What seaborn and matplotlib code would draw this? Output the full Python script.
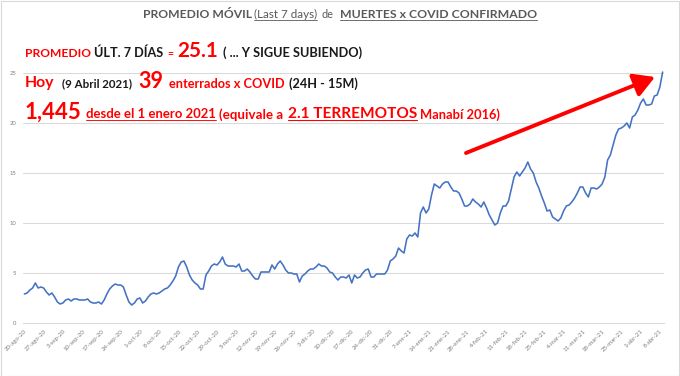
import matplotlib
matplotlib.use("Agg")
import numpy as np
import pandas as pd
import seaborn as sns
import matplotlib.pyplot as plt
from matplotlib.transforms import IdentityTransform
from matplotlib.lines import Line2D
from matplotlib.patches import Rectangle, FancyArrowPatch, ArrowStyle

# ---------------- data ----------------
start_date = "2020-08-20"
end_date = "2021-04-09"
values = [
    2.9, 3.0, 3.3, 3.5, 4.0, 3.5, 3.6, 3.5, 3.1, 2.8,   # d0-9
    3.0, 2.6, 2.1, 1.9, 2.0, 2.3, 2.4, 2.2, 2.4, 2.4,   # d10-19
    2.3, 2.3, 2.3, 2.4, 2.1, 2.0, 2.0, 2.1, 1.9, 2.3,   # d20-29
    2.9, 3.4, 3.7, 3.9, 3.8, 3.8, 3.6, 2.8, 2.1, 1.8,   # d30-39
    2.0, 2.4, 2.5, 2.0, 2.2, 2.6, 2.9, 3.0, 2.9, 3.0,   # d40-49
    3.2, 3.4, 3.5, 3.8, 4.2, 4.7, 5.6, 6.1, 6.2, 5.6,   # d50-59
    4.8, 4.3, 4.0, 3.8, 3.4, 3.4, 4.8, 5.2, 5.7, 5.9,   # d60-69
    5.8, 6.1, 6.6, 5.9, 5.7, 5.7, 5.7, 5.6, 5.9, 5.2,   # d70-79
    5.2, 5.4, 5.1, 4.7, 4.4, 4.4, 5.1, 5.1, 5.1, 5.1,   # d80-89
    5.8, 5.4, 5.9, 6.2, 5.8, 5.3, 5.0, 5.0, 4.9, 4.9,   # d90-99
    4.1, 4.7, 4.9, 5.2, 5.4, 5.4, 5.6, 5.9, 5.7, 5.7,   # d100-109
    5.5, 5.1, 5.0, 4.6, 4.3, 4.6, 4.6, 4.5, 4.8, 4.0,   # d110-119
    4.8, 4.5, 4.6, 5.0, 5.3, 5.4, 4.6, 4.6, 4.9, 4.9,   # d120-129
    4.9, 4.9, 5.3, 6.2, 6.4, 6.7, 7.5, 7.2, 7.0, 8.4,   # d130-139
    8.8, 8.7, 9.0, 8.6, 11.0, 11.6, 11.0, 11.4, 12.8, 13.9,  # d140-149
    13.7, 13.5, 13.9, 14.1, 14.1, 13.6, 13.2, 13.2, 13.0, 12.4,  # d150-159
    11.7, 11.7, 11.9, 12.4, 12.1, 11.9, 11.6, 12.1, 11.5, 10.8,  # d160-169
    10.3, 9.8, 10.0, 11.0, 11.7, 11.7, 12.2, 13.4, 14.6, 15.1,   # d170-179
    14.7, 15.1, 15.5, 16.1, 15.4, 15.0, 14.1, 13.5, 12.7, 12.0,  # d180-189
    11.2, 11.3, 10.6, 10.4, 10.2, 10.5, 11.2, 11.7, 11.8, 12.1,  # d190-199
    12.5, 13.0, 13.6, 13.6, 13.0, 12.6, 13.5, 13.5, 13.4, 13.6,  # d200-209
    13.9, 14.6, 16.3, 16.8, 17.8, 18.8, 19.4, 19.5, 19.7, 20.0,  # d210-219
    19.5, 20.6, 20.8, 21.3, 22.0, 22.4, 21.8, 21.8, 21.9, 22.7,  # d220-229
    22.8, 23.6, 25.1,                                            # d230-232
]
tick_labels = [
    "20-ago-20", "27-ago-20", "3-sep-20", "10-sep-20", "17-sep-20", "24-sep-20",
    "1-oct-20", "8-oct-20", "15-oct-20", "22-oct-20", "29-oct-20", "5-nov-20",
    "12-nov-20", "19-nov-20", "26-nov-20", "3-dic-20", "10-dic-20", "17-dic-20",
    "24-dic-20", "31-dic-20", "7-ene-21", "14-ene-21", "21-ene-21", "28-ene-21",
    "4-feb-21", "11-feb-21", "18-feb-21", "25-feb-21", "4-mar-21", "11-mar-21",
    "18-mar-21", "25-mar-21", "1-abr-21", "8-abr-21",
]
y_ticks = [0, 5, 10, 15, 20, 25]

dates = pd.date_range(start_date, end_date, freq="D")
assert len(dates) == len(values)
df = pd.DataFrame({"fecha": dates, "dia": np.arange(len(dates)), "promedio": values})

# ---------------- figure ----------------
sns.set_theme(style="white")
plt.rcParams["font.family"] = ["Lato", "DejaVu Sans"]

W, H = 680, 376
fig = plt.figure(figsize=(W / 100, H / 100), dpi=100)
fig.patch.set_facecolor("white")

# plot area in pixels: left 23, right 664, top 73, bottom 323
ax = fig.add_axes([23 / W, (H - 323) / H, (664 - 23) / W, (323 - 73) / H])
sns.lineplot(data=df, x="dia", y="promedio", ax=ax, color="#4472C4", linewidth=1.15)

ax.set_xlim(-0.5, len(values) - 0.5)
ax.set_ylim(0, 25)
ax.set_yticks(y_ticks)
ax.set_yticklabels([str(v) for v in y_ticks], fontsize=4.2, color="#7F7F7F")
ax.set_xticks(df["dia"].iloc[::7].tolist())
ax.set_xticklabels(tick_labels, rotation=45, ha="right", rotation_mode="anchor",
                   fontsize=4.4, color="#7F7F7F")
ax.tick_params(axis="x", length=0, pad=4)
ax.tick_params(axis="y", length=0, pad=5)
ax.set_xlabel("")
ax.set_ylabel("")
ax.grid(axis="y", color="#D9D9D9", linewidth=0.75)
ax.set_axisbelow(True)
for s in ["left", "right", "top"]:
    ax.spines[s].set_visible(False)
ax.spines["bottom"].set_color("#D9D9D9")
ax.spines["bottom"].set_linewidth(0.75)
for l in ax.get_lines():
    l.set_clip_on(False)

# chart border
fig.add_artist(Rectangle((0.5, 0.5), W - 1.5, H - 1.5, transform=IdentityTransform(),
                         fill=False, edgecolor="#D9D9D9", linewidth=0.8))

renderer = fig.canvas.get_renderer()
ident = IdentityTransform()


def fitted_line(y_top, parts):
    """parts: (text, left_px, right_px, color, bold, underline); font size fitted to span."""
    y = H - y_top
    for text, x0, x1, color, bold, underline in parts:
        t = fig.text(x0, y, text, transform=ident, fontsize=10, color=color,
                     fontweight="bold" if bold else "normal", va="baseline", ha="left")
        w = t.get_window_extent(renderer).width
        size = 10 * (x1 - x0) / w
        t.set_fontsize(size)
        if underline:
            bb = t.get_window_extent(renderer)
            uy = y - max(1.3, size * 0.17)
            fig.add_artist(Line2D([bb.x0, bb.x1], [uy, uy], transform=ident,
                                  color=color, linewidth=max(0.6, size * 0.07)))


RED = "#FF0000"
BLK = "#1A1A1A"
GRY = "#595959"

# title
fitted_line(18.5, [
    ("PROMEDIO MÓVIL", 143, 251, GRY, True, False),
    ("(Last 7 days)", 254, 317, GRY, False, True),
    ("de", 322, 334, GRY, False, False),
    ("MUERTES x COVID CONFIRMADO", 340, 537, GRY, True, True),
])

# annotation line 1
fitted_line(57, [
    ("PROMEDIO", 25, 90, RED, True, False),
    ("ÚLT. 7 DÍAS", 94, 163, BLK, True, False),
    ("=", 167, 173, RED, True, False),
    ("25.1", 177, 218, RED, True, False),
    ("( ... Y SIGUE SUBIENDO)", 223, 362, BLK, True, False),
])

# annotation line 2
fitted_line(87.5, [
    ("Hoy", 25, 55, RED, True, False),
    ("(9 Abril 2021)", 62, 132, BLK, True, False),
    ("39", 138, 163, RED, True, False),
    ("enterrados x COVID", 169, 285, RED, True, False),
    ("(24H - 15M)", 289, 358, BLK, True, False),
])

# annotation line 3
fitted_line(118.5, [
    ("1,445", 25, 82, RED, True, False),
    ("desde el 1 enero 2021", 86, 217, RED, True, True),
    ("(equivale a", 219, 283, RED, True, False),
    ("2.1 TERREMOTOS", 288, 417, RED, True, True),
    ("Manabí 2016)", 420, 500, RED, True, False),
])

# red trend arrow
arrow = FancyArrowPatch(posA=(466, H - 153), posB=(655, H - 77), transform=ident,
                        arrowstyle=ArrowStyle("-|>", head_length=0.7, head_width=0.4),
                        mutation_scale=18, color=RED, linewidth=2.8,
                        shrinkA=0, shrinkB=0)
fig.add_artist(arrow)

fig.savefig("out.png", dpi=100, facecolor="white")
